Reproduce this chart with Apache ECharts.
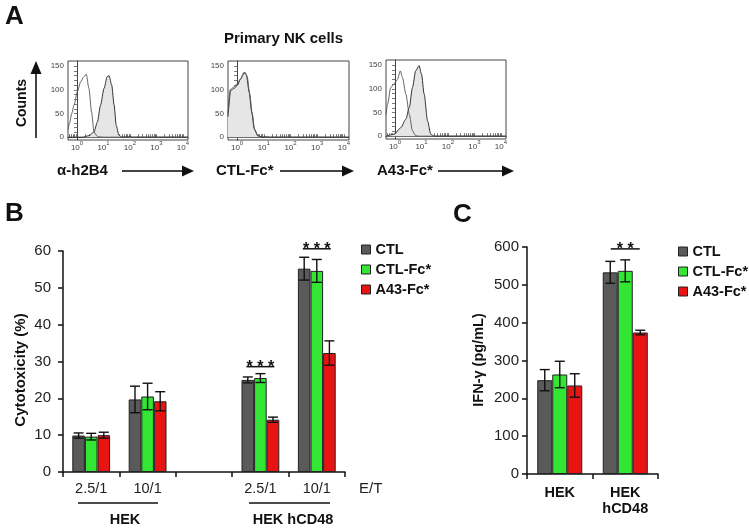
<!DOCTYPE html>
<html><head><meta charset="utf-8">
<script src="https://cdn.jsdelivr.net/npm/echarts@6/dist/echarts.min.js"></script>
<style>html,body{margin:0;padding:0;background:#fff}#c{width:749px;height:529px}</style>
</head><body><div id="c"></div>
<script>
const FONT = '"Liberation Sans", Arial, Helvetica, sans-serif';

// ---------- Panel A: flow cytometry histograms (x = log10 fluorescence, y = counts) ----------
const h2b4Iso   = [[-0.34,16],[-0.28,30],[-0.2,50],[-0.11,68],[0.01,96],[0.14,117],[0.26,128],[0.3,131],[0.35,133],[0.45,103],[0.55,53],[0.64,11],[0.77,1],[1.0,0],[4.19,0]];
const h2b4Stain = [[-0.34,0],[0.2,0],[0.45,3],[0.64,11],[0.77,32],[0.89,68],[1.02,103],[1.14,128],[1.21,130],[1.31,110],[1.40,68],[1.48,25],[1.58,4],[1.7,0],[1.95,1],[2.1,0],[4.19,0]];
const ctlIso    = [[-0.34,50],[-0.26,100],[-0.15,105],[-0.02,112],[0.12,122],[0.24,133],[0.3,137],[0.38,128],[0.47,92],[0.57,48],[0.66,15],[0.8,2],[1.0,0],[4.19,0]];
const ctlStain  = [[-0.34,43],[-0.24,99],[-0.11,103],[0.01,110],[0.14,124],[0.26,137],[0.35,131],[0.45,96],[0.55,53],[0.64,18],[0.77,3],[0.96,0],[1.1,1],[1.2,0],[4.19,0]];
const a43Iso    = [[-0.34,46],[-0.28,68],[-0.16,103],[-0.03,111],[0.09,120],[0.2,138],[0.28,124],[0.41,89],[0.54,46],[0.66,11],[0.78,1],[0.9,0],[4.19,0]];
const a43Stain  = [[-0.34,0],[-0.03,4],[0.22,18],[0.41,36],[0.54,61],[0.66,103],[0.78,138],[0.91,149],[1.0,131],[1.1,89],[1.23,32],[1.35,4],[1.48,0],[4.19,0]];
const histPanels = [[h2b4Iso, h2b4Stain], [ctlIso, ctlStain], [a43Iso, a43Stain]];
const histDecades = [0, 1, 2, 3, 4];
const histCountLabels = [0, 50, 100, 150];

// ---------- Panel B: cytotoxicity ----------
const etCategories = ['2.5/1', '10/1', '', '2.5/1', '10/1'];
const cytoCTL    = [9.9, 19.7, null, 25.0, 55.2];
const cytoCTLErr = [0.7, 3.6, null, 0.8, 3.1];
const cytoFc     = [9.6, 20.5, null, 25.5, 54.6];
const cytoFcErr  = [0.9, 3.6, null, 1.2, 3.1];
const cytoA43    = [10.0, 19.2, null, 14.2, 32.3];
const cytoA43Err = [0.8, 2.6, null, 0.7, 3.3];
const sigBCats = [3, 4];
const sigBLevels = [28.6, 60.6];
const sigBText = ['* * *', '* * *'];

// ---------- Panel C: IFN-gamma ----------
const ifnCategories = ['HEK', 'HEK\nhCD48'];
const ifnCTL    = [248, 533];
const ifnCTLErr = [28, 29];
const ifnFc     = [263, 537];
const ifnFcErr  = [35, 29];
const ifnA43    = [234, 374];
const ifnA43Err = [31, 6];
const sigCCats = [1];
const sigCLevels = [595];
const sigCText = ['* *'];

const seriesNames = ['CTL', 'CTL-Fc*', 'A43-Fc*'];
const barColors = ['#5a5a5a', '#33e633', '#e81414'];

// ---------- helpers ----------
const logTicks = [];
for (let d = -1; d < 5; d++) for (let k = 1; k < 10; k++) {
  const v = d + Math.log10(k);
  if (v >= -0.34 && v <= 4.19) logTicks.push(v);
}
const countTicks = [];
for (let v = 0; v <= 150; v += 10) countTicks.push(v);

const histGrids = [
  {left: 68, top: 61, width: 120, height: 79},
  {left: 228, top: 61, width: 121, height: 79},
  {left: 386, top: 60, width: 120, height: 79}
];

const grids = histGrids.map(g => Object.assign({show: true, borderColor: '#444', borderWidth: 1, backgroundColor: 'transparent'}, g));
grids.push({left: 63, top: 251, width: 282, height: 221});
grids.push({left: 527, top: 247, width: 131, height: 227});

const xAxes = [], yAxes = [], series = [];
histGrids.forEach((g, i) => {
  xAxes.push({
    gridIndex: i, type: 'value', min: -0.34, max: 4.19,
    axisLine: {show: true, lineStyle: {color: '#444', width: 1}},
    axisTick: {show: true, inside: true, length: 3, customValues: logTicks, lineStyle: {color: '#555', width: 0.8}},
    axisLabel: {
      customValues: histDecades, margin: 0, color: '#444',
      formatter: v => '{p| }{b|10}{s|' + v + '}',
      rich: {
        p: {lineHeight: 12, width: 0, fontSize: 1},
        b: {fontSize: 8, lineHeight: 8, verticalAlign: 'bottom', color: '#444', fontFamily: FONT},
        s: {fontSize: 6, lineHeight: 6, verticalAlign: 'top', color: '#444', fontFamily: FONT}
      }
    },
    splitLine: {show: false}
  });
  yAxes.push({
    gridIndex: i, type: 'value', min: -6, max: 161,
    axisLine: {show: true, lineStyle: {color: '#444', width: 1}},
    axisTick: {show: true, length: 3, customValues: countTicks, lineStyle: {color: '#555', width: 0.8}},
    axisLabel: {customValues: histCountLabels, fontSize: 8, color: '#444', margin: 4, fontFamily: FONT},
    splitLine: {show: false}
  });
  const [iso, stain] = histPanels[i];
  series.push({
    type: 'line', xAxisIndex: i, yAxisIndex: i, data: stain, smooth: 0.25, smoothMonotone: 'x', showSymbol: false, silent: true,
    lineStyle: {color: '#333', width: 1}, areaStyle: {color: '#e6e6e6', opacity: 1}, z: 2
  });
  series.push({
    type: 'line', xAxisIndex: i, yAxisIndex: i, data: iso, smooth: 0.25, smoothMonotone: 'x', showSymbol: false, silent: true,
    lineStyle: {color: '#555', width: 0.9}, z: 3
  });
});

// Panel B axes
xAxes.push({
  gridIndex: 3, type: 'category', data: etCategories,
  axisLine: {lineStyle: {color: '#111', width: 1.5}},
  axisTick: {show: true, length: 5, interval: 0, lineStyle: {color: '#111', width: 1.5}},
  axisLabel: {fontSize: 14.5, color: '#222', margin: 9, fontFamily: FONT, interval: 0}
});
yAxes.push({
  gridIndex: 3, type: 'value', min: 0, max: 60, interval: 10,
  axisLine: {show: true, lineStyle: {color: '#111', width: 1.5}},
  axisTick: {show: true, length: 5, lineStyle: {color: '#111', width: 1.5}},
  axisLabel: {fontSize: 15, color: '#222', margin: 12, fontFamily: FONT},
  splitLine: {show: false}
});
// Panel C axes
xAxes.push({
  gridIndex: 4, type: 'category', data: ifnCategories,
  axisLine: {lineStyle: {color: '#111', width: 1.5}},
  axisTick: {show: true, length: 5, interval: 0, lineStyle: {color: '#111', width: 1.5}},
  axisLabel: {fontSize: 14.5, fontWeight: 'bold', color: '#111', margin: 11, lineHeight: 16, fontFamily: FONT, interval: 0}
});
yAxes.push({
  gridIndex: 4, type: 'value', min: 0, max: 600, interval: 100,
  axisLine: {show: true, lineStyle: {color: '#111', width: 1.5}},
  axisTick: {show: true, length: 5, lineStyle: {color: '#111', width: 1.5}},
  axisLabel: {fontSize: 15, color: '#222', margin: 8, fontFamily: FONT},
  splitLine: {show: false}
});

function addBars(axisIdx, groups, barWidth) {
  groups.forEach((g, s) => {
    series.push({
      name: seriesNames[s], type: 'bar', xAxisIndex: axisIdx, yAxisIndex: axisIdx,
      data: g[0], barWidth: barWidth, barGap: '0%',
      itemStyle: {color: barColors[s], borderColor: '#222', borderWidth: 1}, silent: true
    });
  });
  const errData = [];
  groups.forEach((g, s) => g[0].forEach((m, c) => {
    if (m != null) errData.push([c, s, m - g[1][c], m + g[1][c]]);
  }));
  series.push({
    type: 'custom', xAxisIndex: axisIdx, yAxisIndex: axisIdx, data: errData, silent: true, z: 5,
    encode: {x: 0, y: [2, 3]},
    renderItem: (params, api) => {
      const c = api.value(0), s = api.value(1);
      const lo = api.coord([c, api.value(2)]), hi = api.coord([c, api.value(3)]);
      const x = lo[0] + (s - 1) * barWidth;
      const cap = 5;
      const st = {stroke: '#111', lineWidth: 1.4};
      return {type: 'group', children: [
        {type: 'line', shape: {x1: x, y1: lo[1], x2: x, y2: hi[1]}, style: st},
        {type: 'line', shape: {x1: x - cap, y1: hi[1], x2: x + cap, y2: hi[1]}, style: st},
        {type: 'line', shape: {x1: x - cap, y1: lo[1], x2: x + cap, y2: lo[1]}, style: st}
      ]};
    }
  });
}
function addSig(axisIdx, cats, levels, texts, half) {
  series.push({
    type: 'custom', xAxisIndex: axisIdx, yAxisIndex: axisIdx, silent: true, clip: false, z: 6,
    data: cats.map((c, i) => [c, levels[i]]),
    encode: {x: 0, y: 1},
    renderItem: (params, api) => {
      const p = api.coord([api.value(0), api.value(1)]);
      return {type: 'group', children: [
        {type: 'line', shape: {x1: p[0] - half, y1: p[1], x2: p[0] + half, y2: p[1]}, style: {stroke: '#111', lineWidth: 1.5}},
        {type: 'text', x: p[0], y: p[1] + 1, style: {text: texts[params.dataIndex], align: 'center', verticalAlign: 'middle', font: 'bold 16px ' + FONT, fill: '#111'}}
      ]};
    }
  });
}
addBars(3, [[cytoCTL, cytoCTLErr], [cytoFc, cytoFcErr], [cytoA43, cytoA43Err]], 12.6);
addSig(3, sigBCats, sigBLevels, sigBText, 14);
addBars(4, [[ifnCTL, ifnCTLErr], [ifnFc, ifnFcErr], [ifnA43, ifnA43Err]], 15);
addSig(4, sigCCats, sigCLevels, sigCText, 14.5);

const legendBase = {
  orient: 'vertical', itemWidth: 9, itemHeight: 9, itemGap: 5, icon: 'rect', selectedMode: false, padding: 0,
  textStyle: {fontSize: 14.5, fontWeight: 'bold', color: '#111', fontFamily: FONT}, data: seriesNames,
  itemStyle: {borderColor: '#222', borderWidth: 1}
};

function txt(x, y, text, font, opts) {
  return Object.assign({type: 'text', x: x, y: y, silent: true,
    style: Object.assign({text: text, font: font, fill: '#111', align: 'left', verticalAlign: 'middle'}, (opts && opts.style) || {})},
    (opts && opts.el) || {});
}
function arrowH(x1, x2, y) {
  return [
    {type: 'line', silent: true, shape: {x1: x1, y1: y, x2: x2 - 10, y2: y}, style: {stroke: '#444', lineWidth: 2}},
    {type: 'polygon', silent: true, shape: {points: [[x2, y], [x2 - 12, y - 5.5], [x2 - 12, y + 5.5]]}, style: {fill: '#111'}}
  ];
}
const B = 'bold ';
const graphic = [
  txt(5, 17, 'A', B + '26px ' + FONT),
  txt(283.5, 39, 'Primary NK cells', B + '15px ' + FONT, {style: {align: 'center'}}),
  txt(22, 103, 'Counts', B + '14px ' + FONT, {style: {align: 'center'}, el: {rotation: Math.PI / 2}}),
  {type: 'line', silent: true, shape: {x1: 36, y1: 138, x2: 36, y2: 72}, style: {stroke: '#444', lineWidth: 2}},
  {type: 'polygon', silent: true, shape: {points: [[36, 61], [30.5, 74], [41.5, 74]]}, style: {fill: '#111'}},
  txt(57, 171, 'α-h2B4', B + '15px ' + FONT),
  ...arrowH(122, 194, 171),
  txt(216, 171, 'CTL-Fc*', B + '15px ' + FONT),
  ...arrowH(280, 354, 171),
  txt(377, 171, 'A43-Fc*', B + '15px ' + FONT),
  ...arrowH(438, 514, 171),
  txt(5, 214, 'B', B + '26px ' + FONT),
  txt(21, 370, 'Cytotoxicity (%)', B + '15px ' + FONT, {style: {align: 'center'}, el: {rotation: Math.PI / 2}}),
  txt(359, 489, 'E/T', '15px ' + FONT, {style: {fill: '#222'}}),
  {type: 'line', silent: true, shape: {x1: 78, y1: 503, x2: 158, y2: 503}, style: {stroke: '#111', lineWidth: 1.5}},
  {type: 'line', silent: true, shape: {x1: 249, y1: 503, x2: 330, y2: 503}, style: {stroke: '#111', lineWidth: 1.5}},
  txt(125, 520, 'HEK', B + '14.5px ' + FONT, {style: {align: 'center'}}),
  txt(293, 520, 'HEK hCD48', B + '14.5px ' + FONT, {style: {align: 'center'}}),
  txt(453, 215, 'C', B + '26px ' + FONT),
  txt(479, 360, 'IFN-γ (pg/mL)', B + '14.5px ' + FONT, {style: {align: 'center'}, el: {rotation: Math.PI / 2}})
];

const chart = echarts.init(document.getElementById('c'), null, {renderer: 'canvas'});
chart.setOption({
  backgroundColor: '#fff',
  animation: false,
  textStyle: {fontFamily: FONT},
  grid: grids,
  xAxis: xAxes,
  yAxis: yAxes,
  legend: [
    Object.assign({left: 361, top: 242}, legendBase),
    Object.assign({left: 678, top: 244}, legendBase)
  ],
  series: series,
  graphic: graphic
});
</script></body></html>
